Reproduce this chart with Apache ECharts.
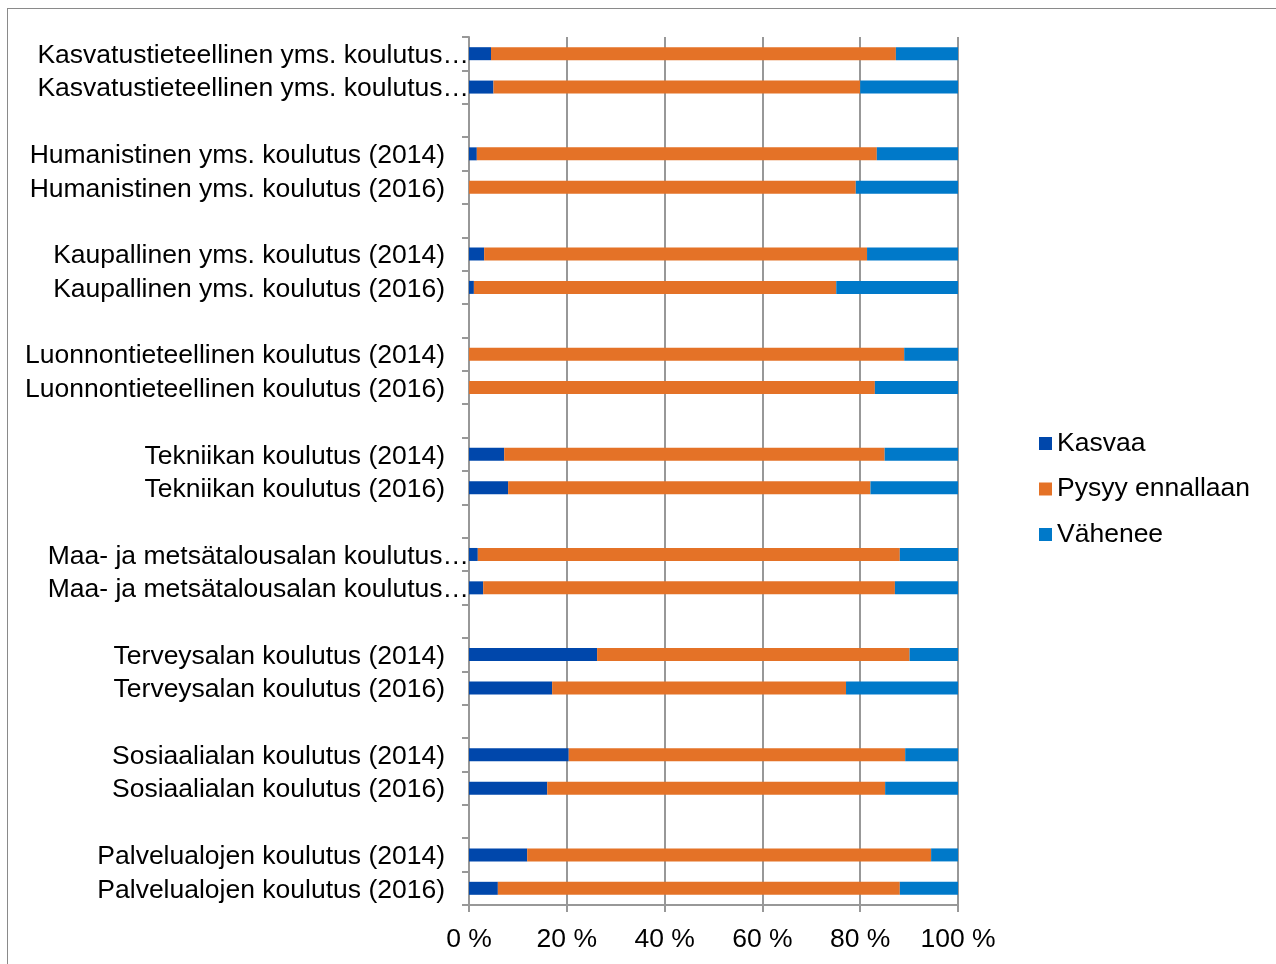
<!DOCTYPE html>
<html>
<head>
<meta charset="utf-8">
<script src="https://cdn.jsdelivr.net/npm/echarts@6/dist/echarts.min.js"></script>
<style>
  html, body { margin: 0; padding: 0; background: #fff; overflow: hidden; }
  #frame { position: absolute; left: 7px; top: 8px; width: 1300px; height: 1000px; border: 1px solid #8a8a8a; box-sizing: border-box; }
  #chart { position: absolute; left: 0; top: 0; width: 1276px; height: 964px; }
</style>
</head>
<body>
<div id="frame"></div>
<div id="chart"></div>
<script>
// Education fields, two survey years each; '' rows are spacers between groups
const categories = [
  'Kasvatustieteellinen yms. koulutus (2014)', 'Kasvatustieteellinen yms. koulutus (2016)', '',
  'Humanistinen yms. koulutus (2014)', 'Humanistinen yms. koulutus (2016)', '',
  'Kaupallinen yms. koulutus (2014)', 'Kaupallinen yms. koulutus (2016)', '',
  'Luonnontieteellinen koulutus (2014)', 'Luonnontieteellinen koulutus (2016)', '',
  'Tekniikan koulutus (2014)', 'Tekniikan koulutus (2016)', '',
  'Maa- ja metsätalousalan koulutus (2014)', 'Maa- ja metsätalousalan koulutus (2016)', '',
  'Terveysalan koulutus (2014)', 'Terveysalan koulutus (2016)', '',
  'Sosiaalialan koulutus (2014)', 'Sosiaalialan koulutus (2016)', '',
  'Palvelualojen koulutus (2014)', 'Palvelualojen koulutus (2016)'
];

const seriesNames = ['Kasvaa', 'Pysyy ennallaan', 'Vähenee'];

// Shares in percent
const kasvaa = [4.5, 5.0, null, 1.6, 0, null, 3.1, 1.0, null, 0, 0, null,
  7.2, 8.0, null, 1.8, 2.9, null, 26.2, 17.0, null, 20.4, 16.0, null, 11.9, 5.9];
const pysyy = [82.8, 75.0, null, 81.8, 79.1, null, 78.3, 74.1, null, 89.0, 83.0, null,
  77.8, 74.1, null, 86.3, 84.2, null, 63.9, 60.1, null, 68.8, 69.1, null, 82.6, 82.2];
const vahenee = [12.7, 20.0, null, 16.6, 20.9, null, 18.6, 24.9, null, 11.0, 17.0, null,
  15.0, 17.9, null, 11.9, 12.9, null, 9.9, 22.9, null, 10.8, 14.9, null, 5.5, 11.9];

const xTicks = [0, 20, 40, 60, 80, 100];

const colors = ['#0047AB', '#E47227', '#0079C9'];
const FONT = 'Liberation Sans, Arial, sans-serif';
const FS = 26.5;
const LABEL_ROOM = 430;

// Shorten labels that do not fit the label column: drop the year, add an ellipsis
const ctx = document.createElement('canvas').getContext('2d');
ctx.font = FS + 'px Liberation Sans';
function shortLabel(s) {
  if (!s) return '';
  if (ctx.measureText(s).width <= LABEL_ROOM) return '{n|' + s + '}';
  const cut = s.lastIndexOf(' (');
  return '{t|' + s.slice(0, cut) + '…}';
}

const chart = echarts.init(document.getElementById('chart'), null, { renderer: 'canvas' });
const gridLine = { color: '#989898', width: 2 };

chart.setOption({
  animation: false,
  grid: { left: 469, right: 318, top: 37, bottom: 59, containLabel: false },
  legend: {
    orient: 'vertical',
    left: 1039,
    top: 430,
    padding: 0,
    icon: 'rect',
    itemWidth: 13,
    itemHeight: 13,
    itemGap: 18.5,
    data: seriesNames,
    textStyle: { fontFamily: FONT, fontSize: FS, color: '#000', lineHeight: 27, padding: [0, 0, 0, 0] },
    selectedMode: false
  },
  xAxis: {
    type: 'value',
    min: 0, max: 100, interval: 20,
    axisLine: { show: true, lineStyle: gridLine },
    axisTick: { show: true, length: 7, lineStyle: gridLine },
    splitLine: { show: true, lineStyle: gridLine },
    axisLabel: {
      margin: 21,
      fontFamily: FONT, fontSize: FS, color: '#000',
      formatter: v => xTicks.includes(v) ? v + ' %' : ''
    }
  },
  yAxis: {
    type: 'category',
    inverse: true,
    data: categories,
    axisLine: { show: true, lineStyle: gridLine },
    axisTick: { show: true, length: 7, interval: 0, alignWithLabel: false, lineStyle: gridLine },
    axisLabel: {
      interval: 0,
      margin: 0,
      fontFamily: FONT, fontSize: FS, color: '#000',
      formatter: shortLabel,
      rich: {
        n: { fontFamily: FONT, fontSize: FS, color: '#000', padding: [4, 24, 0, 0] },
        t: { fontFamily: FONT, fontSize: FS, color: '#000', padding: [4, 0, 0, 0] }
      }
    }
  },
  series: [kasvaa, pysyy, vahenee].map((d, i) => ({
    name: seriesNames[i],
    type: 'bar',
    stack: 'share',
    barWidth: 13,
    data: d,
    itemStyle: { color: colors[i] }
  }))
});
</script>
</body>
</html>
